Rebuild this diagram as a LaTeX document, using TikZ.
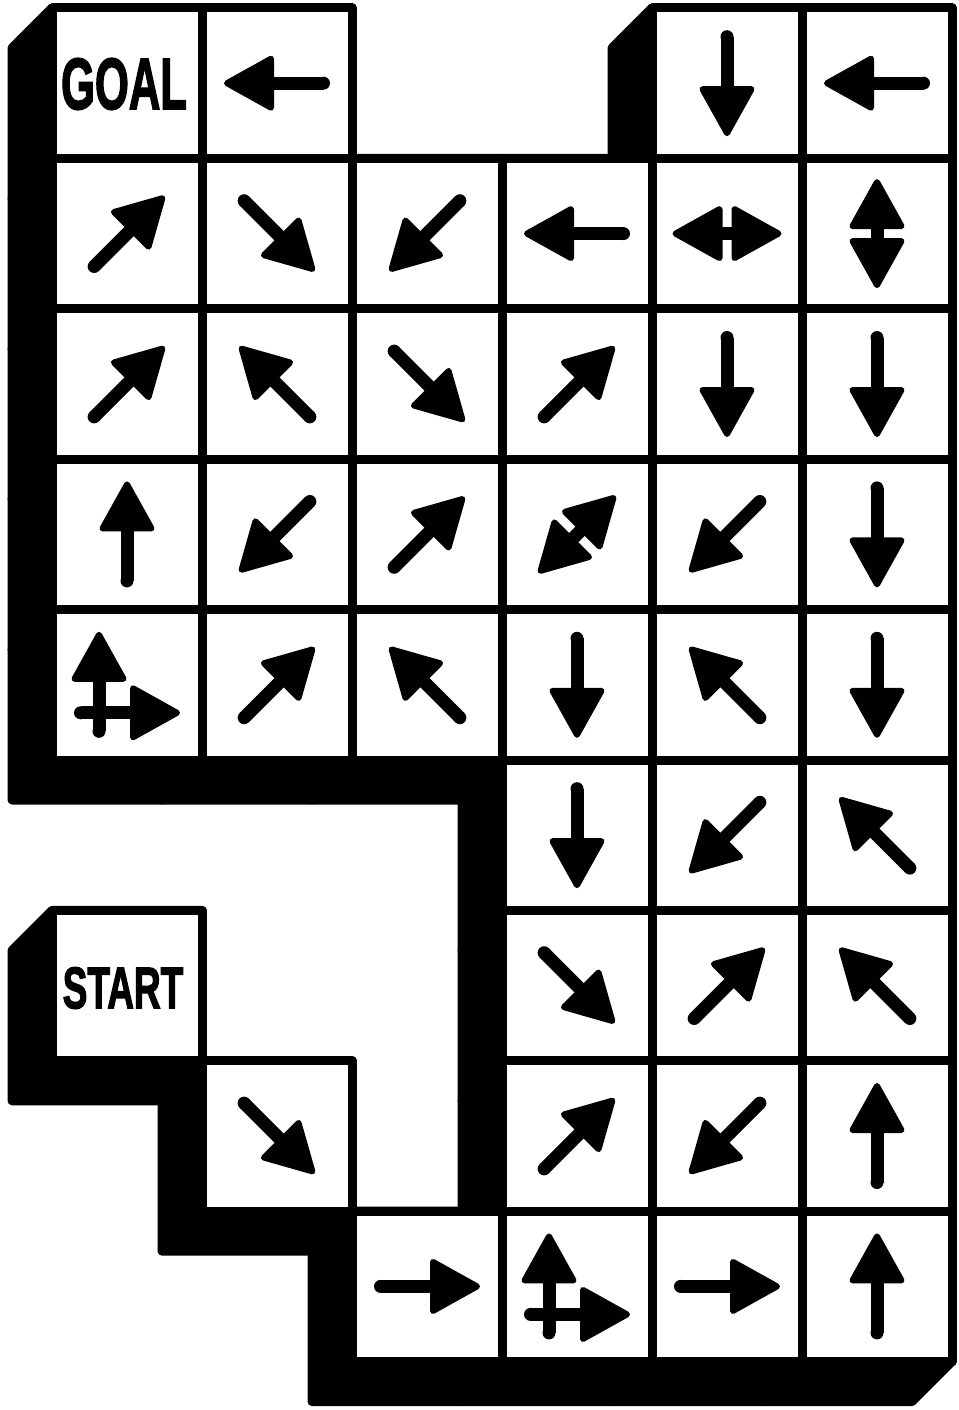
\documentclass[tikz,border=0pt]{standalone}
\usepackage{graphicx}
\usepackage{fontspec}
\newfontfamily\labfont[BoldFeatures={FakeBold=2.5}]{Liberation Sans}
\definecolor{ink}{RGB}{1,1,1}
% arrow head pointing along +x, base at x=6, tip at x=50 (outer 3 to 53)
\newcommand{\headshape}{%
  \fill[ink] (50,0) -- (6,24.5) -- (6,-24.5) -- cycle;
  \draw[ink,line width=6pt,line join=round] (50,0) -- (6,24.5) -- (6,-24.5) -- cycle;
  \draw[ink,line width=7pt,line join=round] (38.16,0) -- (11.76,14.7) -- (11.76,-14.7) -- cycle;
  \draw[ink,line width=7pt,line join=round] (27.8,0) -- (16.8,6.125) -- (16.8,-6.125) -- cycle;
  \fill[ink] (20.4,0) circle (2.5);
}
\newcommand{\singlearrow}{%
  \fill[ink] (-46.5,-6.5) rectangle (12,6.5);
  \fill[ink] (-46.5,0) circle (6.5);
  \headshape
}
\newcommand{\doublearrow}{%
  \fill[ink] (-12,-6.5) rectangle (12,6.5);
  \begin{scope}[shift={(1.5,0)}]\headshape\end{scope}
  \begin{scope}[rotate=180]\begin{scope}[shift={(1.5,0)}]\headshape\end{scope}\end{scope}
}
\begin{document}
\begin{tikzpicture}[x=1pt,y=-1pt,
  shadowcell/.style={fill=black,draw=black,line width=9pt,line join=round},
  gridcell/.style={fill=white,draw=black,line width=9pt,line join=round},
  lbl/.style={inner sep=0pt,text=ink,font=\labfont\bfseries}]
\useasboundingbox (0,0) rectangle (958,1410);
\fill[white] (0,0) rectangle (958,1410);
\def\cells{0/0,1/0,4/0,5/0,
  0/1,1/1,2/1,3/1,4/1,5/1,
  0/2,1/2,2/2,3/2,4/2,5/2,
  0/3,1/3,2/3,3/3,4/3,5/3,
  0/4,1/4,2/4,3/4,4/4,5/4,
  3/5,4/5,5/5,
  0/6,3/6,4/6,5/6,
  1/7,3/7,4/7,5/7,
  2/8,3/8,4/8,5/8}
% extruded shadow
\foreach \i/\j in \cells {
  \pgfmathsetmacro\xa{52+150*\i}
  \pgfmathsetmacro\xb{202+150*\i}
  \pgfmathsetmacro\ya{8+150.4*\j}
  \pgfmathsetmacro\yb{158.4+150.4*\j}
  \path[shadowcell] (\xa,\ya) -- (\xb,\ya) -- (\xb,\yb) -- (\xb-40,\yb+40)
     -- (\xa-40,\yb+40) -- (\xa-40,\ya+40) -- cycle;
}
% cells
\foreach \i/\j in \cells {
  \pgfmathsetmacro\xa{52+150*\i}
  \pgfmathsetmacro\ya{8+150.4*\j}
  \path[gridcell] (\xa,\ya) rectangle (\xa+150,\ya+150.4);
}
% single arrows
\foreach \i/\j/\a in {1/0/180,4/0/270,5/0/180,
  0/1/45,1/1/315,2/1/225,3/1/180,
  0/2/45,1/2/135,2/2/315,3/2/45,4/2/270,5/2/270,
  0/3/90,1/3/225,2/3/45,4/3/225,5/3/270,
  1/4/45,2/4/135,3/4/270,4/4/135,5/4/270,
  3/5/270,4/5/225,5/5/135,
  3/6/315,4/6/45,5/6/135,
  1/7/315,3/7/45,4/7/225,5/7/90,
  2/8/0,4/8/0,5/8/90} {
  \begin{scope}[shift={({127+150*\i},{83.2+150.4*\j})},rotate=\a]
    \singlearrow
  \end{scope}
}
% double arrows
\foreach \i/\j/\a in {4/1/0,5/1/90,3/3/45} {
  \begin{scope}[shift={({127+150*\i},{83.2+150.4*\j})},rotate=\a]
    \doublearrow
  \end{scope}
}
% combined up + right arrows
\foreach \i/\j in {0/4,3/8} {
  \begin{scope}[shift={({127+150*\i-28},{83.2+150.4*\j})},rotate=90]
    \singlearrow
  \end{scope}
  \begin{scope}[shift={({127+150*\i},{83.2+150.4*\j+28})}]
    \singlearrow
  \end{scope}
}
% labels
\node[lbl] (goal) at (124,84) {\fontsize{72.6}{72.6}\selectfont\scalebox{0.6}[1]{GOAL}};
\node[lbl] (start) at (123,988) {\fontsize{58.7}{58.7}\selectfont\scalebox{0.63}[1]{START}};
\end{tikzpicture}
\end{document}
